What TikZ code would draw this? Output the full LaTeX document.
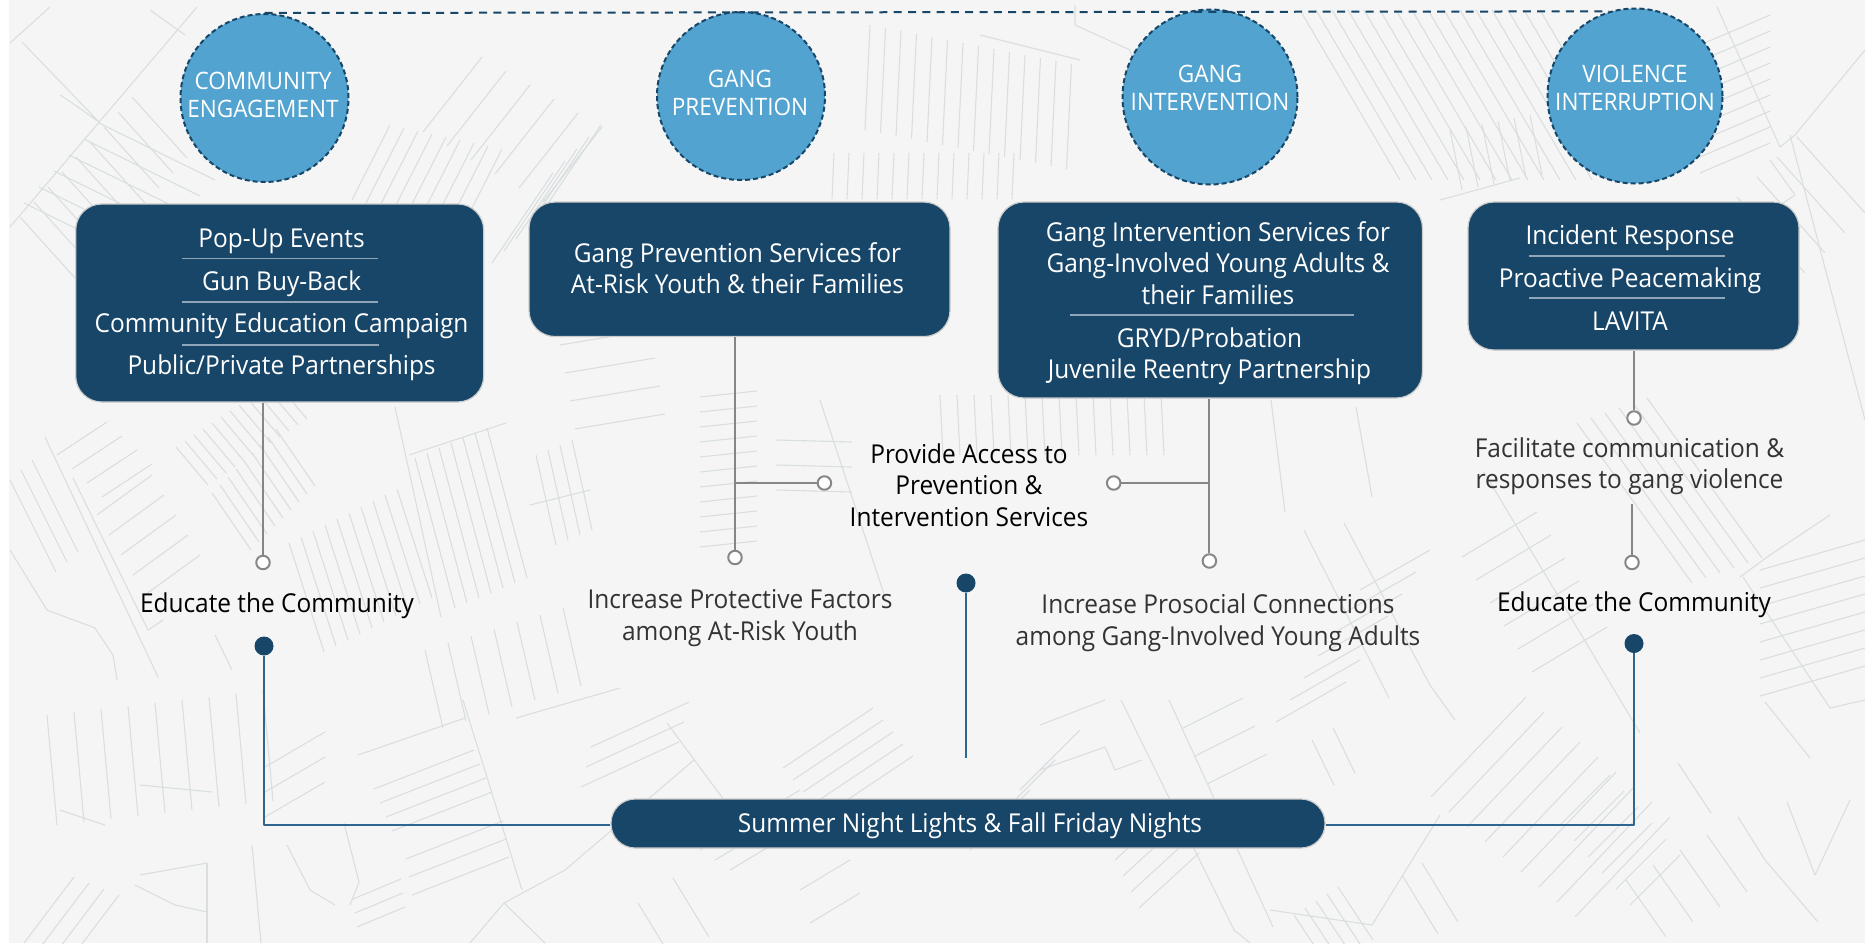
\documentclass[tikz,border=0pt]{standalone}
\usepackage{fontspec}
\setmainfont[FakeStretch=0.94]{Open Sans}
\definecolor{navy}{HTML}{174669}
\definecolor{sky}{HTML}{52A3CF}
\definecolor{road}{HTML}{D9DEE0}
\definecolor{paper}{HTML}{F5F5F5}
\definecolor{stem}{HTML}{868686}
\definecolor{wire}{HTML}{2F6690}
\definecolor{rule}{HTML}{8FA6B8}
\definecolor{ink}{HTML}{333333}
\newcommand{\streets}[7]{% x y dx dy stepx stepy count
  \foreach \k in {1,...,#7}
    \draw[road] ({#1+(\k-1)*(#5)},{#2+(\k-1)*(#6)}) -- ++(#3,#4);
}
\tikzset{
  round/.style={circle,fill=sky,draw=navy,dash pattern=on 5bp off 3bp,line width=2bp,minimum size=#1,inner sep=0pt},
  roundtext/.style={text=white,align=center,font=\fontsize{24bp}{28bp}\selectfont},
  panel/.style={rectangle,rounded corners=26bp,fill=navy,draw=black!20,line width=1.2bp,inner sep=0pt},
  boxtext/.style={text=white,align=center,font=\fontsize{26bp}{31.5bp}\selectfont},
  sep/.style={rule,line width=1.2bp},
  label/.style={align=center,font=\fontsize{26bp}{31.5bp}\selectfont},
  opendot/.style={circle,draw=stem,fill=white,line width=2bp,inner sep=0pt,minimum size=13.5bp},
  solidot/.style={circle,fill=navy,inner sep=0pt,minimum size=19bp},
  stemline/.style={stem,line width=2bp},
  wireline/.style={wire,line width=2.4bp},
}
\begin{document}
\begin{tikzpicture}[x=1bp,y=-1bp,line join=bevel]
\useasboundingbox (0,0) rectangle (1865,943);
\fill[white] (0,0) rectangle (1865,943);
\fill[paper] (9,0) rectangle (1865,943);
%%
\begin{scope}[line width=1.1bp]
  \clip (9,0) rectangle (1865,943);
  % top left
  \streets{99}{123}{116}{57}{-15}{16}{6}
  \streets{20}{217}{55}{61}{14}{-15}{9}
  \streets{352}{200}{38}{-75}{14}{3}{9}
  \streets{423}{132}{59}{-75}{24}{14}{6}
  \streets{492}{263}{61}{-90}{12}{-12}{5}
  \draw[road] (22,42) -- (99,122) -- (75,105) -- (60,95);
  \draw[road] (10,227) -- (197,7);
  \draw[road] (10,43) -- (50,7);
  \draw[road] (150,10) -- (185,35);
  % top middle
  \streets{870}{25}{-5}{105}{15.5}{3}{14}
  \streets{834}{153}{-2}{46}{15}{0}{13}
  \streets{940}{395}{3}{60}{17}{0}{14}
  \streets{700}{397}{57}{-6}{0}{15}{11}
  \streets{776}{440}{76}{2}{0}{25}{3}
  \streets{560}{345}{90}{-15}{5}{28}{4}
  \draw[road] (820,400) -- (886,600);
  \draw[road] (980,35) -- (1080,60);
  \draw[road] (1075,5) -- (1075,25) -- (1130,50) -- (1135,70);
  % top right
  \streets{1300}{10}{100}{170}{16}{0}{16}
  \streets{1700}{173}{70}{-30}{0}{-16}{9}
  \streets{1797}{137}{68}{76}{-20}{20}{6}
  \streets{1450}{130}{12}{60}{16}{-3}{6}
  \draw[road] (1717,7) -- (1780,147) -- (1795,135) -- (1865,50);
  \draw[road] (1770,160) -- (1795,195) -- (1780,205);
  \draw[road] (1440,200) -- (1520,178);
  % below the panels, left
  \streets{176}{447}{32}{38}{9}{-6}{12}
  \streets{212}{493}{39}{57}{8}{-8}{9}
  \streets{57}{455}{50}{-33}{15}{14}{4}
  \streets{97}{515}{55}{-40}{12}{20}{5}
  \streets{10}{480}{46}{92}{11}{-10}{3}
  \streets{289}{543}{35}{109}{12}{-6}{10}
  \streets{415}{458}{40}{150}{12}{-5}{7}
  \streets{425}{650}{18}{78}{23}{-7}{7}
  \streets{536}{455}{20}{90}{12}{-5}{4}
  \draw[road] (45,437) -- (158,677);
  \draw[road] (10,550) -- (47,610) -- (95,628) -- (113,655) -- (117,680);
  \draw[road] (73,478) -- (148,630) -- (163,620);
  \draw[road] (395,407) -- (441,617);
  \draw[road] (409,455) -- (506,423);
  \draw[road] (358,755) -- (465,718);
  \draw[road] (516,718) -- (620,688);
  \draw[road] (530,505) -- (590,490);
  \draw[road] (215,635) -- (232,670);
  % bottom left
  \streets{47}{715}{10}{110}{27}{-3}{9}
  \streets{74}{877}{-50}{66}{15}{6}{4}
  \streets{265}{767}{60}{-35}{0}{25}{3}
  \streets{374}{789}{100}{-39}{6}{14}{4}
  \streets{406}{859}{97}{-38}{3}{18}{3}
  \streets{353}{899}{48}{-20}{2}{14}{3}
  \draw[road] (207,863) -- (207,943);
  \draw[road] (252,845) -- (261,943);
  \draw[road] (140,785) -- (212,792);
  \draw[road] (60,810) -- (105,825);
  \draw[road] (140,875) -- (207,863);
  \draw[road] (135,885) -- (175,905) -- (207,912);
  \draw[road] (287,845) -- (310,890) -- (335,905);
  \draw[road] (344,823) -- (359,882) -- (350,905);
  \draw[road] (463,700) -- (522,890);
  \draw[road] (504,903) -- (565,870) -- (694,760);
  \draw[road] (504,903) -- (470,943);
  \draw[road] (504,903) -- (545,943);
  \draw[road] (667,723) -- (724,800);
  % bottom middle
  \streets{581}{787}{98}{-45}{5}{-20}{3}
  \streets{783}{768}{90}{-60}{10}{12}{5}
  \streets{673}{878}{36}{59}{-35}{25}{2}
  \streets{800}{890}{50}{-30}{10}{33}{2}
  \streets{700}{850}{100}{-60}{15}{10}{3}
  \streets{1020}{790}{60}{-60}{-25}{30}{3}
  \streets{1115}{860}{60}{-55}{8}{16}{4}
  \streets{1183}{728}{60}{-30}{12}{28}{3}
  \draw[road] (1121,700) -- (1234,930) -- (1250,943);
  \draw[road] (1169,700) -- (1273,927);
  \draw[road] (1040,725) -- (1105,700);
  \draw[road] (1040,770) -- (1105,747) -- (1115,770) -- (1142,760);
  % bottom right
  \streets{1312}{740}{22}{45}{21}{-12}{2}
  \streets{1431}{797}{95}{-100}{18}{15}{9}
  \streets{1338}{887}{35}{53}{-11}{7}{5}
  \streets{1422}{863}{36}{59}{-20}{12}{2}
  \streets{1626}{880}{40}{57}{27}{-15}{4}
  \streets{1560}{825}{50}{-50}{14}{16}{6}
  \streets{1760}{570}{105}{-30}{0}{18}{8}
  \draw[road] (1765,702) -- (1810,758);
  \draw[road] (1678,763) -- (1711,813);
  \draw[road] (1738,817) -- (1765,860) -- (1818,922);
  \draw[road] (1440,815) -- (1372,925);
  \draw[road] (1787,802) -- (1815,875) -- (1850,800);
  \draw[road] (1270,910) -- (1372,925);
  % below the panels, right
  \streets{1577}{423}{115}{160}{14}{-5}{6}
  \streets{1462}{557}{75}{-45}{14}{23}{6}
  \streets{1360}{590}{70}{-40}{-14}{22}{7}
  \draw[road] (1271,400) -- (1285,512);
  \draw[road] (1356,407) -- (1372,497);
  \draw[road] (1304,530) -- (1389,698);
  \draw[road] (1344,523) -- (1430,685) -- (1455,720);
  \draw[road] (1484,472) -- (1640,733);
  \draw[road] (1743,577) -- (1830,708) -- (1865,700);
  \draw[road] (1740,577) -- (1770,555) -- (1830,515);
  \draw[road] (1790,135) -- (1865,420);
\end{scope}
  % Node: engage
\node[round=168bp] (engage) at (264.5,98) {};
\node[round=168bp] (prevent) at (741,96) {};
\node[round=175bp] (intervene) at (1210,97) {};
\node[round=175bp] (interrupt) at (1635,96) {};
\node[roundtext] (engagetext) at (263,94.5) {COMMUNITY\\ENGAGEMENT};
\node[roundtext] (preventtext) at (740,93) {GANG\\PREVENTION};
\node[roundtext] (intervenetext) at (1210,88) {GANG\\INTERVENTION};
\node[roundtext] (interrupttext) at (1635,88) {VIOLENCE\\INTERRUPTION};
  % Edge: engage -> interrupt
\draw[navy,line width=2bp,dash pattern=on 8bp off 6.3bp] (engage.north) -- (interrupt.107);
  % Node: panels
\node[panel,minimum width=408bp,minimum height=198bp] (panelA) at (279.7,303) {};
\node[panel,minimum width=421bp,minimum height=134.5bp] (panelB) at (739.5,269.3) {};
\node[panel,minimum width=424.5bp,minimum height=196bp] (panelC) at (1210.2,300) {};
\node[panel,minimum width=331bp,minimum height=148bp] (panelD) at (1633.5,276) {};
\node[panel,rounded corners=24bp,minimum width=714bp,minimum height=49bp] (pill) at (968,823.5) {};
  % panel A
\node[boxtext] (popup) at (281.6,241.5) {Pop-Up Events};
\node[boxtext] (buyback) at (281.6,284) {Gun Buy-Back};
\node[boxtext] (campaign) at (281.6,326) {Community Education Campaign};
\node[boxtext] (partners) at (281.6,368) {Public/Private Partnerships};
\draw[sep] (182,258.7) -- (378,258.7);
\draw[sep] (182,302) -- (378,302);
\draw[sep] (182,345) -- (379,345);
  % panel B
\node[boxtext] (preventserv) at (737.5,268) {Gang Prevention Services for\\At-Risk Youth \& their Families};
  % panel C
\node[boxtext] (interserv) at (1218,263) {Gang Intervention Services for\\Gang-Involved Young Adults \&\\their Families};
\draw[sep] (1070,315) -- (1354,315);
\node[boxtext] (reentry) at (1209.5,356) {GRYD/Probation\\Juvenile Reentry Partnership};
  % panel D
\node[boxtext] (incident) at (1630,238) {Incident Response};
\node[boxtext] (peace) at (1630,280.5) {Proactive Peacemaking};
\node[boxtext] (lavita) at (1630,321) {LAVITA};
\draw[sep] (1529,256) -- (1725,256);
\draw[sep] (1529,298) -- (1725,298);
  % bar
\node[boxtext] (bar) at (970,825.5) {Summer Night Lights \& Fall Friday Nights};
  % Node: ends
\node[opendot] (openA) at (263,562.5) {};
\node[opendot] (openB) at (735,557.5) {};
\node[opendot] (openBr) at (824.4,483) {};
\node[opendot] (openCl) at (1113.7,483) {};
\node[opendot] (openC) at (1209.4,561) {};
\node[opendot] (openD) at (1634,418) {};
\node[opendot] (openE) at (1632,562.5) {};
\node[solidot] (dotA) at (264,646) {};
\node[solidot] (dotB) at (966,583) {};
\node[solidot] (dotC) at (1634,643.5) {};
\coordinate (stemE) at (1632,504);
\coordinate (pinB) at (966,758);
\coordinate (forkB) at (735,483);
\coordinate (forkC) at (1209.4,483);
\coordinate (wireL) at ([yshift=-1.5bp]pill.west);
\coordinate (wireR) at ([yshift=-1.5bp]pill.east);
  % Edge: panels -> ends
\draw[stemline] (openA |- panelA.south) -- (openA);
\draw[stemline] (openB |- panelB.south) -- (openB);
\draw[stemline] (forkB) -- (openBr);
\draw[stemline] (openC |- panelC.south) -- (openC);
\draw[stemline] (forkC) -- (openCl);
\draw[stemline] (openD |- panelD.south) -- (openD);
\draw[stemline] (stemE) -- (openE);
  % Edge: pill -> dots
\draw[wireline] (wireL) -- (dotA |- wireL) -- (dotA);
\draw[wireline] (wireR) -- (dotC |- wireR) -- (dotC);
\draw[wireline] (pinB) -- (dotB);
  % Node: labels
\node[label,text=black] (eduleft) at (277,605.5) {Educate the Community};
\node[label,text=ink] (protect) at (740,618) {Increase Protective Factors\\among At-Risk Youth};
\node[label,text=black] (access) at (969,485) {Provide Access to\\Prevention \&\\Intervention Services};
\node[label,text=ink] (prosocial) at (1218,622.5) {Increase Prosocial Connections\\among Gang-Involved Young Adults};
\node[label,text=ink] (facilitate) at (1629.5,466) {Facilitate communication \&\\responses to gang violence};
\node[label,text=black] (eduright) at (1634,604.5) {Educate the Community};
%
\end{tikzpicture}
\end{document}
